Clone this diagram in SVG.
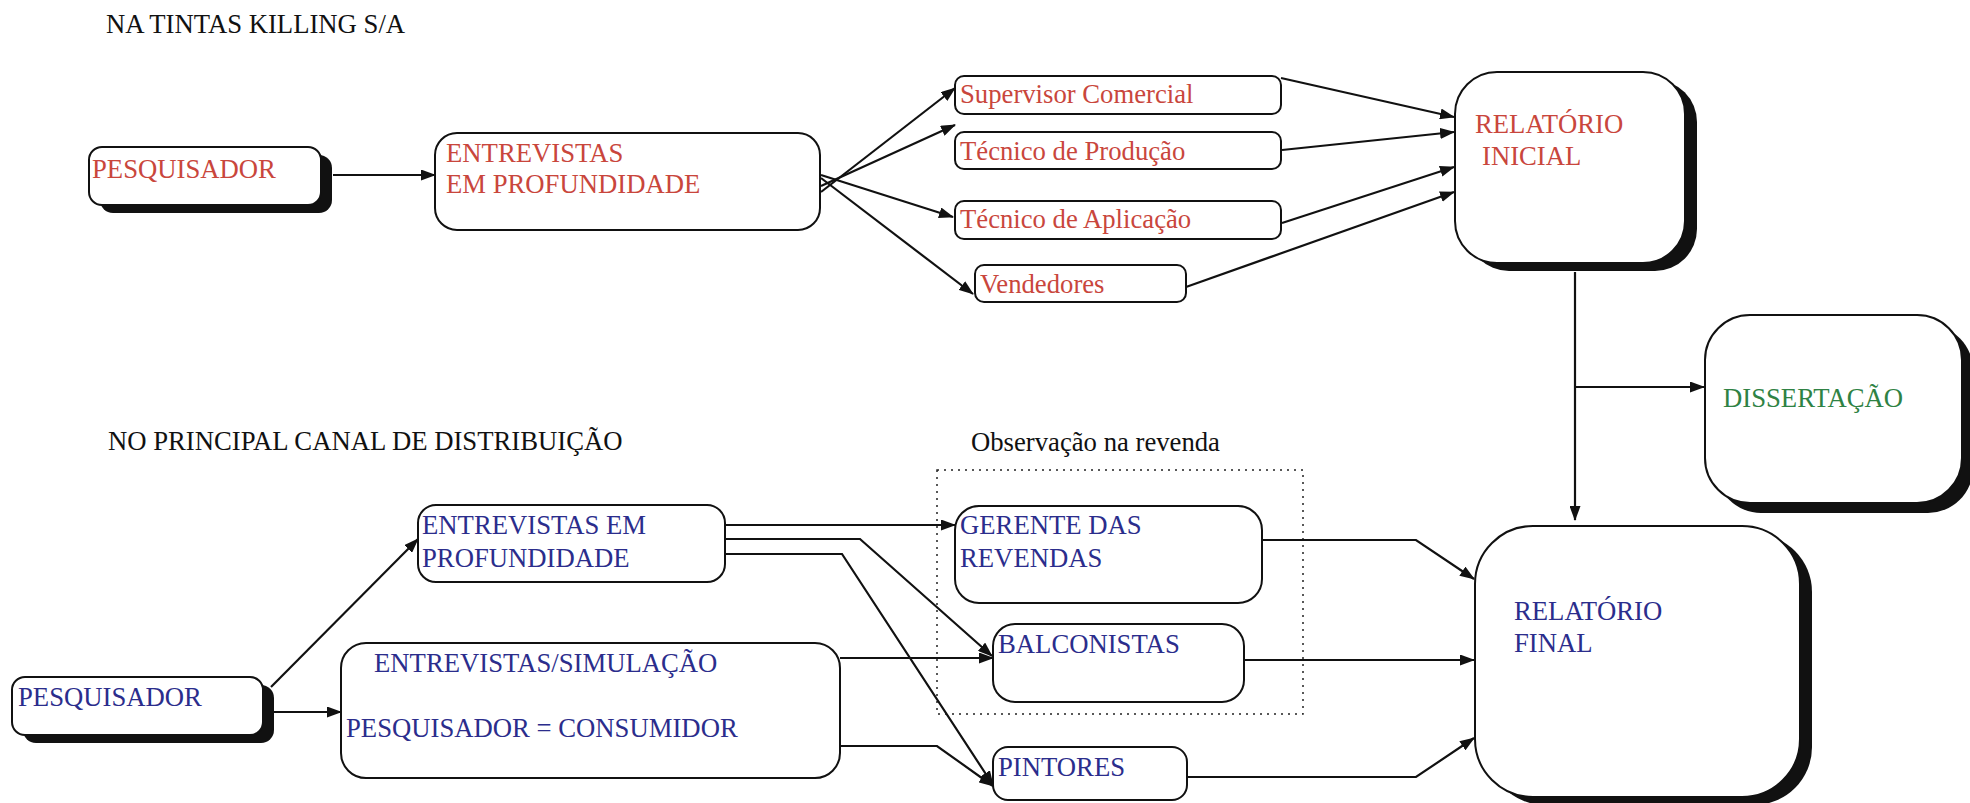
<svg xmlns="http://www.w3.org/2000/svg" width="1970" height="803" viewBox="0 0 1970 803" font-family="'Liberation Serif', 'DejaVu Serif', serif" font-size="26.7">
<defs>
<marker id="ah" markerUnits="userSpaceOnUse" markerWidth="15" markerHeight="11" refX="14" refY="5.5" orient="auto">
<path d="M0,0 L15,5.5 L0,11 z" fill="#111"/>
</marker>
<style>
.red{fill:#c9463c}
.blue{fill:#2b2d8c}
.green{fill:#2f8244}
.blk{fill:#111}
.box{fill:#fff;stroke:#111;stroke-width:2}
.sh{fill:#111}
.con path{fill:none;stroke:#111;stroke-width:2.2}
.dot{fill:none;stroke:#222;stroke-width:1.5;stroke-dasharray:2 5}
</style>
</defs>
<rect width="1970" height="803" fill="#fff"/>
<text class="blk" x="106" y="33">NA TINTAS KILLING S/A</text>
<text class="blk" x="108" y="450">NO PRINCIPAL CANAL DE DISTRIBUIÇÃO</text>
<text class="blk" x="971" y="451">Observação na revenda</text>
<rect class="dot" x="937" y="470" width="366" height="244"/>

<g class="con">
<path d="M333,175 H435" marker-end="url(#ah)"/>
<path d="M821,192 L955,88" marker-end="url(#ah)"/>
<path d="M821,186 L955,125" marker-end="url(#ah)"/>
<path d="M821,175 L953,217" marker-end="url(#ah)"/>
<path d="M821,178 L973,294" marker-end="url(#ah)"/>
<path d="M1281,78 L1454,117" marker-end="url(#ah)"/>
<path d="M1282,150 L1454,132" marker-end="url(#ah)"/>
<path d="M1282,223 L1454,167" marker-end="url(#ah)"/>
<path d="M1186,287 L1454,192" marker-end="url(#ah)"/>
<path d="M1575,272 V520" marker-end="url(#ah)"/>
<path d="M1575,387 H1704" marker-end="url(#ah)"/>
<path d="M271,687 L418,539" marker-end="url(#ah)"/>
<path d="M274,712 H341" marker-end="url(#ah)"/>
<path d="M725,525 H955" marker-end="url(#ah)"/>
<path d="M725,539 H860 L992,656" marker-end="url(#ah)"/>
<path d="M725,554 H842 L993,785" marker-end="url(#ah)"/>
<path d="M840,658 H993" marker-end="url(#ah)"/>
<path d="M840,746 H937 L993,786" marker-end="url(#ah)"/>
<path d="M1262,540 H1416 L1474,579" marker-end="url(#ah)"/>
<path d="M1244,660 H1474" marker-end="url(#ah)"/>
<path d="M1187,777 H1416 L1474,738" marker-end="url(#ah)"/>
</g>

<g id="pesquisador1">
<rect class="sh" x="100" y="155" width="232" height="58" rx="13"/>
<rect class="box" x="89" y="147" width="232" height="58" rx="13"/>
<text class="red" x="92" y="178">PESQUISADOR</text>
</g>
<g id="entrevistas1">
<rect class="box" x="435" y="133" width="385" height="97" rx="22"/>
<text class="red" x="446" y="162">ENTREVISTAS</text>
<text class="red" x="446" y="193">EM PROFUNDIDADE</text>
</g>
<g id="supervisor">
<rect class="box" x="955" y="76" width="326" height="38" rx="9"/>
<text class="red" x="960" y="103">Supervisor Comercial</text>
</g>
<g id="producao">
<rect class="box" x="955" y="132" width="326" height="37" rx="9"/>
<text class="red" x="960" y="160">Técnico de Produção</text>
</g>
<g id="aplicacao">
<rect class="box" x="955" y="201" width="326" height="38" rx="9"/>
<text class="red" x="960" y="228">Técnico de Aplicação</text>
</g>
<g id="vendedores">
<rect class="box" x="975" y="265" width="211" height="37" rx="9"/>
<text class="red" x="980" y="293">Vendedores</text>
</g>
<g id="relatorio-inicial">
<rect class="sh" x="1467" y="80" width="230" height="191" rx="42"/>
<rect class="box" x="1455" y="72" width="230" height="191" rx="42"/>
<text class="red" x="1475" y="133">RELATÓRIO</text>
<text class="red" x="1482" y="165">INICIAL</text>
</g>
<g id="dissertacao">
<rect class="sh" x="1716" y="325" width="257" height="188" rx="45"/>
<rect class="box" x="1705" y="315" width="257" height="188" rx="45"/>
<text class="green" x="1723" y="407">DISSERTAÇÃO</text>
</g>
<g id="pesquisador2">
<rect class="sh" x="23" y="685" width="251" height="58" rx="13"/>
<rect class="box" x="12" y="677" width="251" height="58" rx="13"/>
<text class="blue" x="18" y="706">PESQUISADOR</text>
</g>
<g id="entrevistas2">
<rect class="box" x="418" y="505" width="307" height="77" rx="18"/>
<text class="blue" x="422" y="534">ENTREVISTAS EM</text>
<text class="blue" x="422" y="567">PROFUNDIDADE</text>
</g>
<g id="simulacao">
<rect class="box" x="341" y="643" width="499" height="135" rx="25"/>
<text class="blue" x="374" y="672">ENTREVISTAS/SIMULAÇÃO</text>
<text class="blue" x="346" y="737">PESQUISADOR = CONSUMIDOR</text>
</g>
<g id="gerente">
<rect class="box" x="955" y="506" width="307" height="97" rx="24"/>
<text class="blue" x="960" y="534">GERENTE DAS</text>
<text class="blue" x="960" y="567">REVENDAS</text>
</g>
<g id="balconistas">
<rect class="box" x="993" y="624" width="251" height="78" rx="22"/>
<text class="blue" x="998" y="653">BALCONISTAS</text>
</g>
<g id="pintores">
<rect class="box" x="993" y="747" width="194" height="53" rx="15"/>
<text class="blue" x="998" y="776">PINTORES</text>
</g>
<g id="relatorio-final">
<rect class="sh" x="1487" y="534" width="325" height="271" rx="58"/>
<rect class="box" x="1475" y="526" width="325" height="271" rx="58"/>
<text class="blue" x="1514" y="620">RELATÓRIO</text>
<text class="blue" x="1514" y="652">FINAL</text>
</g>
</svg>
